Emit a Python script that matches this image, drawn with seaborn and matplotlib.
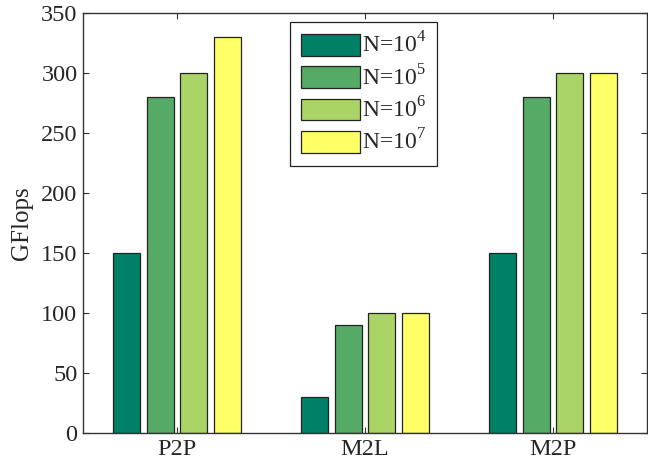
import pandas as pd
import numpy as np
import matplotlib
matplotlib.use("Agg")
import matplotlib.pyplot as plt
import seaborn as sns

# data
kernels = ["P2P", "M2L", "M2P"]
sizes = ["N=$10^4$", "N=$10^5$", "N=$10^6$", "N=$10^7$"]
gflops_1e4 = [150, 30, 150]
gflops_1e5 = [280, 90, 280]
gflops_1e6 = [300, 100, 300]
gflops_1e7 = [330, 100, 300]
colors = ["#008066", "#55AA66", "#AAD466", "#FFFF66"]

sns.set_style("white")
plt.rcParams["font.family"] = ["Liberation Serif", "DejaVu Serif"]
plt.rcParams["mathtext.fontset"] = "custom"
plt.rcParams["mathtext.rm"] = "Liberation Serif"

df = pd.DataFrame({
    "kernel": kernels * 4,
    "size": [s for s in sizes for _ in kernels],
    "gflops": gflops_1e4 + gflops_1e5 + gflops_1e6 + gflops_1e7,
})

fig, ax = plt.subplots(figsize=(6.48, 4.74), dpi=100)
ax.set_position([83 / 648, 1 - 433 / 474, (647 - 83) / 648, (433 - 13) / 474])
sns.barplot(data=df, x="kernel", y="gflops", hue="size", order=kernels,
            hue_order=sizes, palette=colors, width=0.72, gap=0.2,
            edgecolor="#222222", linewidth=0.9, saturation=1, ax=ax)

ax.set_xlim(-0.5, 2.5)
ax.set_ylim(0, 350)
ax.set_yticks(np.arange(0, 351, 50))
ax.set_xlabel("")
ax.set_ylabel("GFlops", fontsize=18, labelpad=6)
ax.tick_params(axis="both", labelsize=17.5, direction="in", length=4,
               bottom=True, left=True, top=True, right=True, width=0.8,
               color="#333333", pad=4)
for s in ax.spines.values():
    s.set_color("#333333")
    s.set_linewidth(1.0)

leg = ax.legend(loc="upper left", bbox_to_anchor=(0.367, 0.979), fontsize=17,
                handlelength=2.5, handleheight=1.05, labelspacing=0.3,
                handletextpad=0.1, borderpad=0.45, borderaxespad=0,
                fancybox=False, edgecolor="#222222", framealpha=1)
leg.get_frame().set_linewidth(0.9)

plt.savefig("out.png", dpi=100)
